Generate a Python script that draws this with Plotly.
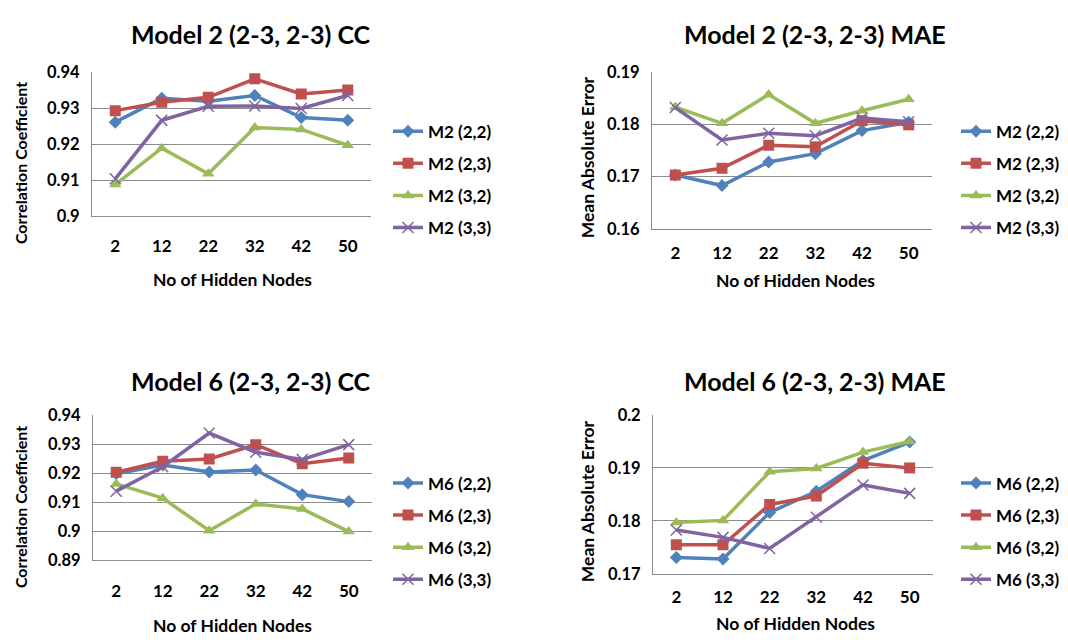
import plotly.graph_objects as go

# ---------------- data ----------------
nodes = ["2", "12", "22", "32", "42", "50"]

names_m2 = ["M2 (2,2)", "M2 (2,3)", "M2 (3,2)", "M2 (3,3)"]
names_m6 = ["M6 (2,2)", "M6 (2,3)", "M6 (3,2)", "M6 (3,3)"]

cc_m2_22 = [0.9261, 0.9327, 0.9319, 0.9335, 0.9274, 0.9266]
cc_m2_23 = [0.9293, 0.9316, 0.9330, 0.9381, 0.9339, 0.9350]
cc_m2_32 = [0.9088, 0.9189, 0.9118, 0.9246, 0.9241, 0.9197]
cc_m2_33 = [0.9104, 0.9266, 0.9305, 0.9306, 0.9299, 0.9335]

mae_m2_22 = [0.1703, 0.1683, 0.1728, 0.1744, 0.1788, 0.1804]
mae_m2_23 = [0.1703, 0.1716, 0.1760, 0.1757, 0.1807, 0.1799]
mae_m2_32 = [0.1833, 0.1802, 0.1857, 0.1802, 0.1826, 0.1848]
mae_m2_33 = [0.1832, 0.1770, 0.1783, 0.1778, 0.1812, 0.1805]

cc_m6_22 = [0.9198, 0.9228, 0.9204, 0.9211, 0.9126, 0.9102]
cc_m6_23 = [0.9203, 0.9241, 0.9249, 0.9298, 0.9232, 0.9252]
cc_m6_32 = [0.9163, 0.9114, 0.9002, 0.9094, 0.9077, 0.8999]
cc_m6_33 = [0.9138, 0.9222, 0.9338, 0.9272, 0.9247, 0.9298]

mae_m6_22 = [0.1731, 0.1728, 0.1816, 0.1856, 0.1914, 0.1949]
mae_m6_23 = [0.1755, 0.1755, 0.1831, 0.1847, 0.1909, 0.1900]
mae_m6_32 = [0.1797, 0.1801, 0.1893, 0.1899, 0.1930, 0.1950]
mae_m6_33 = [0.1783, 0.1769, 0.1748, 0.1807, 0.1868, 0.1852]

cc_m2_ticks = [0.9, 0.91, 0.92, 0.93, 0.94]
cc_m2_ticktext = ["0.9", "0.91", "0.92", "0.93", "0.94"]
mae_m2_ticks = [0.16, 0.17, 0.18, 0.19]
mae_m2_ticktext = ["0.16", "0.17", "0.18", "0.19"]
cc_m6_ticks = [0.89, 0.9, 0.91, 0.92, 0.93, 0.94]
cc_m6_ticktext = ["0.89", "0.9", "0.91", "0.92", "0.93", "0.94"]
mae_m6_ticks = [0.17, 0.18, 0.19, 0.2]
mae_m6_ticktext = ["0.17", "0.18", "0.19", "0.2"]

titles = ["Model 2 (2-3, 2-3) CC", "Model 2 (2-3, 2-3) MAE",
          "Model 6 (2-3, 2-3) CC", "Model 6 (2-3, 2-3) MAE"]
ytitles = ["Correlation Coefficient", "Mean Absolute Error",
           "Correlation Coefficient", "Mean Absolute Error"]
xtitle = "No of Hidden Nodes"

# ---------------- styles ----------------
W, H = 1068, 643
colors = ["#4F81BD", "#C0504D", "#9BBB59", "#8064A2"]
symbols = ["diamond", "square", "triangle-up", "x-thin"]
msizes = [10, 11, 11, 11]
grid = "#8C8C8C"
FONT = "Lato"


def xd(a, b):
    return [a / W, b / W]


def yd(top, bottom):
    return [1 - bottom / H, 1 - top / H]


panels = [
    dict(data=[cc_m2_22, cc_m2_23, cc_m2_32, cc_m2_33], names=names_m2,
         x=(92, 371), y=(64, 213), rng=[0.9, 0.94], tv=cc_m2_ticks, tt=cc_m2_ticktext,
         title=(251, 25), ytit=(20, 158), ysz=16, xtit=(232, 278), leg=(388, 107),
         stand=14),
    dict(data=[mae_m2_22, mae_m2_23, mae_m2_32, mae_m2_33], names=names_m2,
         x=(652, 932), y=(64, 226), rng=[0.16, 0.19], tv=mae_m2_ticks, tt=mae_m2_ticktext,
         title=(815, 25), ytit=(587, 152), ysz=17.5, xtit=(795, 279), leg=(956, 107),
         stand=9),
    dict(data=[cc_m6_22, cc_m6_23, cc_m6_32, cc_m6_33], names=names_m6,
         x=(93, 372), y=(418, 568), rng=[0.89, 0.94], tv=cc_m6_ticks, tt=cc_m6_ticktext,
         title=(251, 383), ytit=(20, 513), ysz=16, xtit=(232, 635), leg=(388, 470),
         stand=15),
    dict(data=[mae_m6_22, mae_m6_23, mae_m6_32, mae_m6_33], names=names_m6,
         x=(653, 933), y=(418, 582), rng=[0.17, 0.2], tv=mae_m6_ticks, tt=mae_m6_ticktext,
         title=(815, 383), ytit=(587, 507), ysz=17.5, xtit=(795, 633), leg=(956, 470),
         stand=8),
]

fig = go.Figure()
layout = dict(
    width=W, height=H, margin=dict(l=0, r=0, t=0, b=0),
    paper_bgcolor="white", plot_bgcolor="white",
    font=dict(family=FONT, size=16, color="black", weight="bold"),
    showlegend=True, annotations=[],
)

for i, p in enumerate(panels):
    k = "" if i == 0 else str(i + 1)
    legname = "legend" + k
    for j, (vals, nm) in enumerate(zip(p["data"], p["names"])):
        mk = dict(symbol=symbols[j], size=msizes[j], color=colors[j])
        if symbols[j] == "x-thin":
            mk["line"] = dict(color=colors[j], width=1.5)
        fig.add_trace(go.Scatter(
            x=nodes, y=vals, name=nm, mode="lines+markers",
            line=dict(color=colors[j], width=3.5), marker=mk,
            xaxis="x" + k, yaxis="y" + k, legend=legname,
            legendgroup=f"g{i}_{j}",
        ))
    layout["xaxis" + k] = dict(
        domain=xd(*p["x"]), anchor="y" + k, type="category",
        range=[-0.5, 5.5], showgrid=False, showline=True, linecolor=grid,
        linewidth=1, ticks="", tickfont=dict(size=17), ticklabelstandoff=p["stand"],
        fixedrange=True,
    )
    layout["yaxis" + k] = dict(
        domain=yd(*p["y"]), anchor="x" + k, range=p["rng"],
        tickvals=p["tv"], ticktext=p["tt"], showgrid=True, gridcolor=grid,
        gridwidth=1, showline=True, linecolor=grid, linewidth=1, ticks="",
        zeroline=False, tickfont=dict(size=16.5), ticklabelstandoff=8,
        fixedrange=True,
    )
    layout[legname] = dict(
        x=p["leg"][0] / W, y=1 - p["leg"][1] / H, xanchor="left", yanchor="top",
        bgcolor="rgba(0,0,0,0)", font=dict(size=17), tracegroupgap=7,
        itemwidth=30,
    )
    layout["annotations"] += [
        dict(text=titles[i], x=p["title"][0] / W, y=1 - p["title"][1] / H,
             xref="paper", yref="paper", showarrow=False, xanchor="center",
             yanchor="middle", font=dict(size=25)),
        dict(text=ytitles[i], x=p["ytit"][0] / W, y=1 - p["ytit"][1] / H,
             xref="paper", yref="paper", showarrow=False, xanchor="center",
             yanchor="middle", textangle=-90, font=dict(size=p["ysz"])),
        dict(text=xtitle, x=p["xtit"][0] / W, y=1 - p["xtit"][1] / H,
             xref="paper", yref="paper", showarrow=False, xanchor="center",
             yanchor="middle", font=dict(size=17.5)),
    ]

fig.update_layout(**layout)
fig.write_html("out.html")
